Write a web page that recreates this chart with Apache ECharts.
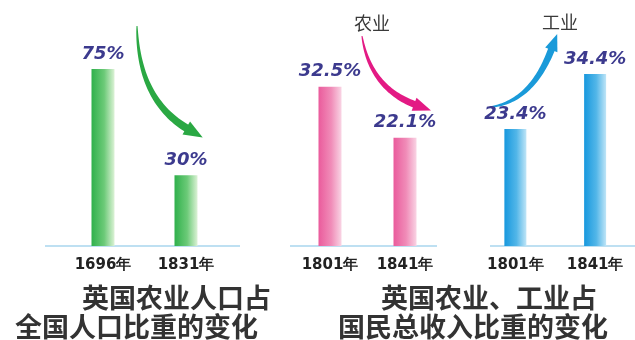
<!DOCTYPE html>
<html>
<head>
<meta charset="utf-8">
<script src="https://cdn.jsdelivr.net/npm/echarts@6/dist/echarts.min.js"></script>
<style>html,body{margin:0;padding:0;background:#fff}#c{width:635px;height:340px}</style>
</head>
<body>
<div id="c"></div>
<script>
// ---- data ----
const popCategories = ['1696年', '1831年'];
const popValues = [75, 30];
const agriCategories = ['1801年', '1841年'];
const agriValues = [32.5, 22.1];
const induCategories = ['1801年', '1841年'];
const induValues = [23.4, 34.4];
const captionLeft = ['英国农业人口占', '全国人口比重的变化'];
const captionRight = ['英国农业、工业占', '国民总收入比重的变化'];
const arrowLabels = ['农业', '工业'];

const chart = echarts.init(document.getElementById('c'), null, {renderer: 'canvas'});

function grad(c0, c1, c2) {
  return new echarts.graphic.LinearGradient(0, 0, 1, 0, [
    {offset: 0, color: c0}, {offset: 0.55, color: c1}, {offset: 1, color: c2}
  ]);
}

function arrow(p0, c, p1, w0, w1, headLen, headW, color) {
  const N = 40, L = [], R = [];
  for (let i = 0; i <= N; i++) {
    const t = i / N;
    const x = (1 - t) * (1 - t) * p0[0] + 2 * (1 - t) * t * c[0] + t * t * p1[0];
    const y = (1 - t) * (1 - t) * p0[1] + 2 * (1 - t) * t * c[1] + t * t * p1[1];
    let dx = 2 * (1 - t) * (c[0] - p0[0]) + 2 * t * (p1[0] - c[0]);
    let dy = 2 * (1 - t) * (c[1] - p0[1]) + 2 * t * (p1[1] - c[1]);
    const d = Math.hypot(dx, dy); dx /= d; dy /= d;
    const w = (w0 + (w1 - w0) * Math.pow(t, 0.7)) / 2;
    L.push([x - dy * w, y + dx * w]);
    R.push([x + dy * w, y - dx * w]);
  }
  let dx = p1[0] - c[0], dy = p1[1] - c[1];
  const d = Math.hypot(dx, dy); dx /= d; dy /= d;
  const tip = [p1[0] + dx * headLen, p1[1] + dy * headLen];
  const b1 = [p1[0] - dy * headW / 2 - dx * 2, p1[1] + dx * headW / 2 - dy * 2];
  const b2 = [p1[0] + dy * headW / 2 - dx * 2, p1[1] - dx * headW / 2 - dy * 2];
  return [
    {type: 'polygon', shape: {points: L.concat(R.reverse())}, style: {fill: color}, silent: true},
    {type: 'polygon', shape: {points: [b1, tip, b2]}, style: {fill: color}, silent: true}
  ];
}

const valueLabel = {
  show: true, position: 'top', distance: 6,
  formatter: p => p.value + '%',
  fontFamily: 'DejaVu Sans', fontWeight: 'bold', fontStyle: 'italic',
  fontSize: 18, color: '#3c3a8e'
};

function xAxis(idx, cats) {
  return {
    type: 'category', gridIndex: idx, data: cats,
    axisLine: {show: false}, axisTick: {show: false},
    axisLabel: {fontFamily: 'DejaVu Sans', fontWeight: 'bold', fontSize: 15, color: '#222', margin: 12}
  };
}
function yAxis(idx, max) {
  return {type: 'value', gridIndex: idx, min: 0, max: max, show: false, splitLine: {show: false}};
}

const captionStyle = {fontFamily: 'Noto Sans CJK SC', fontWeight: 'bold', fontSize: 27, color: '#333'};
function cap(text, left, top) {
  return {text: text, left: left, top: top, padding: 0, textStyle: captionStyle};
}

const baseColor = '#a9d6ee';
function baseLine(x1, x2) {
  return {type: 'line', shape: {x1: x1, y1: 246, x2: x2, y2: 246}, style: {stroke: baseColor, lineWidth: 1.5}, silent: true};
}

const graphics = [
  baseLine(45, 240), baseLine(290, 437), baseLine(490, 635),
  ...arrow([137, 26], [138, 100], [188, 129], 1, 8, 17, 15, '#2aa843'),
  ...arrow([362, 36], [370, 88], [416, 105], 1, 7, 16, 14, '#e31a84'),
  ...arrow([490, 107], [532, 102], [552, 48], 1, 7, 15, 13, '#1a9ad9'),
  {type: 'text', x: 372, y: 23, style: {text: arrowLabels[0], fontFamily: 'Noto Sans CJK SC', fontSize: 18, fill: '#3a3a3a', align: 'center', verticalAlign: 'middle'}},
  {type: 'text', x: 560, y: 22, style: {text: arrowLabels[1], fontFamily: 'Noto Sans CJK SC', fontSize: 18, fill: '#3a3a3a', align: 'center', verticalAlign: 'middle'}}
];

chart.setOption({
  animation: false,
  backgroundColor: '#fff',
  title: [
    cap(captionLeft[0], 82, 284), cap(captionLeft[1], 15, 313),
    cap(captionRight[0], 381, 284), cap(captionRight[1], 338, 313)
  ],
  grid: [
    {left: 61.5, width: 166, top: 57.2, height: 188.8},
    {left: 292.5, width: 150, top: 50, height: 196},
    {left: 475.5, width: 162, top: 46, height: 200}
  ],
  xAxis: [xAxis(0, popCategories), xAxis(1, agriCategories), xAxis(2, induCategories)],
  yAxis: [yAxis(0, 80), yAxis(1, 40), yAxis(2, 40)],
  series: [
    {type: 'bar', xAxisIndex: 0, yAxisIndex: 0, data: popValues, barWidth: 23,
     itemStyle: {color: grad('#2fb04b', '#6cca78', '#dcf2d6')}, label: valueLabel},
    {type: 'bar', xAxisIndex: 1, yAxisIndex: 1, data: agriValues, barWidth: 23,
     itemStyle: {color: grad('#ea5b9c', '#f08cb8', '#f9d4e4')}, label: valueLabel},
    {type: 'bar', xAxisIndex: 2, yAxisIndex: 2, data: induValues, barWidth: 22,
     itemStyle: {color: grad('#1798de', '#52b6e8', '#bfe5f7')}, label: valueLabel}
  ],
  graphic: graphics
});
</script>
</body>
</html>
